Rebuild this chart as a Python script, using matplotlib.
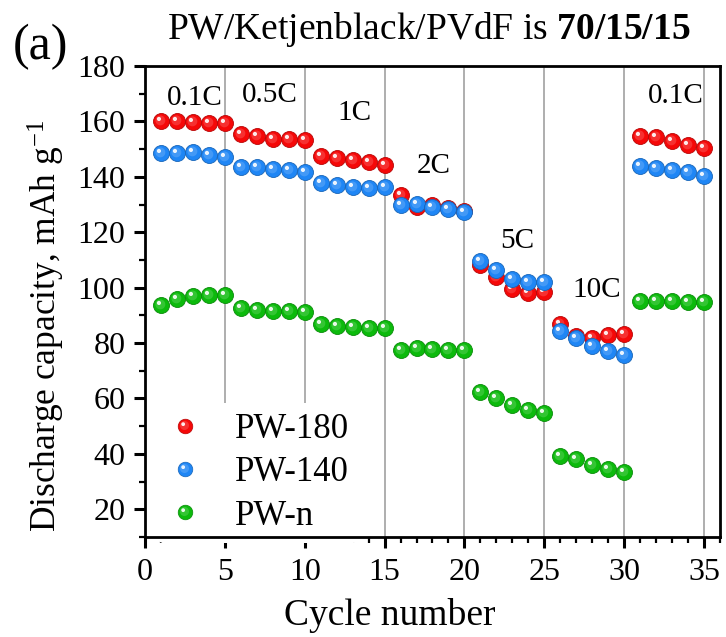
import matplotlib
matplotlib.use('Agg')
import matplotlib.pyplot as plt
from matplotlib.markers import MarkerStyle
from matplotlib.transforms import Affine2D
from matplotlib.legend_handler import HandlerTuple
from matplotlib.ticker import MultipleLocator
import matplotlib.colors as mcolors
import numpy as np

# ---------------- data ----------------
cycles = list(range(1, 36))
pw180 = [160.2, 160.2, 159.9, 159.6, 159.4,
         155.4, 154.8, 153.8, 153.6, 153.3,
         147.5, 146.9, 146.1, 145.5, 144.3,
         133.3, 129.1, 130.0, 128.8, 127.5,
         108.2, 103.9, 99.6, 98.0, 98.6,
         86.8, 82.5, 81.9, 82.9, 83.1,
         154.8, 154.3, 153.1, 151.5, 150.3]
pw140 = [148.5, 148.7, 148.9, 147.9, 147.3,
         143.6, 143.4, 142.8, 142.4, 141.8,
         137.6, 137.2, 136.4, 135.8, 136.4,
         129.7, 130.3, 129.1, 128.5, 127.3,
         109.7, 106.3, 103.0, 102.2, 102.2,
         84.3, 81.7, 79.1, 77.3, 75.6,
         143.9, 143.1, 142.5, 141.8, 140.3]
pwn = [93.6, 96.0, 96.9, 97.3, 97.3,
       92.8, 91.8, 91.6, 91.6, 91.2,
       86.7, 86.1, 85.9, 85.5, 85.5,
       77.6, 78.2, 78.0, 77.6, 77.6,
       62.2, 60.1, 57.8, 56.0, 54.8,
       39.1, 38.1, 36.1, 34.5, 33.6,
       95.2, 95.2, 95.1, 94.8, 94.8]
series_names = ['PW-180', 'PW-140', 'PW-n']
rate_labels = ['0.1C', '0.5C', '1C', '2C', '5C', '10C', '0.1C']
rate_x = [3.1, 7.8, 13.1, 18.1, 23.3, 28.3, 33.25]
rate_y = [168.5, 169.6, 163.0, 144.0, 117.0, 99.0, 169.2]

# ---------------- style ----------------
plt.rcParams['font.family'] = ['Liberation Serif', 'DejaVu Serif']
plt.rcParams['mathtext.fontset'] = 'custom'
plt.rcParams['mathtext.rm'] = 'Liberation Serif'
plt.rcParams['mathtext.it'] = 'Liberation Serif:italic'
plt.rcParams['mathtext.bf'] = 'Liberation Serif:bold'

colors = ['#f50808', '#1f86f5', '#0cba0c']

fig = plt.figure(figsize=(7.26, 6.37), dpi=100)
ax = fig.add_axes([0.1997, 0.157, 0.7920, 0.7394])

hl_mid = MarkerStyle('o', transform=Affine2D().scale(0.62).translate(-0.07, 0.07))
hl_top = MarkerStyle('o', transform=Affine2D().scale(0.26).translate(-0.16, 0.16))


def glossy_handles(x, y, c, ms, z):
    rgb = np.array(mcolors.to_rgb(c))
    dark = tuple(rgb * 0.75)
    light = tuple(rgb + (1 - rgb) * 0.30)
    h1, = ax.plot(x, y, 'o', ms=ms, mfc=c, mec=dark, mew=0.6, zorder=z)
    h2, = ax.plot(x, y, ls='none', marker=hl_mid, ms=ms, mfc=light, mec='none', alpha=0.55, zorder=z)
    h3, = ax.plot(x, y, ls='none', marker=hl_top, ms=ms, mfc='white', mec='none', alpha=0.9, zorder=z)
    return (h1, h2, h3)


for vals, c, z in zip([pw180, pw140, pwn], colors, [3, 4, 3]):
    glossy_handles(cycles, vals, c, 11.5, z)

# legend handles (smaller balls)
leg_handles = []
for c in colors:
    rgb = np.array(mcolors.to_rgb(c))
    a = plt.Line2D([], [], ls='none', marker='o', ms=10.5, mfc=c, mec=tuple(rgb * 0.75), mew=0.5)
    b = plt.Line2D([], [], ls='none', marker=hl_mid, ms=10.5, mfc=tuple(rgb + (1 - rgb) * 0.3), mec='none', alpha=0.55)
    d = plt.Line2D([], [], ls='none', marker=hl_top, ms=10.5, mfc='white', mec='none', alpha=0.9)
    leg_handles.append((a, b, d))

leg = ax.legend(leg_handles, series_names, handler_map={tuple: HandlerTuple(ndivide=1)},
                loc='lower left', bbox_to_anchor=(0.0216, -0.0127), fontsize=25,
                frameon=True, facecolor='white', edgecolor='none', framealpha=1.0,
                handlelength=1.0, handletextpad=0.94, labelspacing=0.29,
                borderpad=0.3, borderaxespad=0.0)
leg.set_zorder(2)

for lab, x, y in zip(rate_labels, rate_x, rate_y):
    ax.text(x, y, lab, fontsize=21, ha='center', va='center', zorder=5)

ax.set_xlim(0, 36)
ax.set_ylim(10, 180)
ax.xaxis.set_major_locator(MultipleLocator(5))
ax.xaxis.set_minor_locator(MultipleLocator(1))
ax.yaxis.set_minor_locator(MultipleLocator(10))
ax.set_yticks([20, 40, 60, 80, 100, 120, 140, 160, 180])

# vertical guide lines at the major x ticks (drawn below the legend)
for xv in ax.get_xticks():
    if 0 < xv < 36:
        ax.axvline(xv, color='#a8a8a8', lw=1.3, zorder=1)

for s in ax.spines.values():
    s.set_linewidth(2.0)
ax.tick_params(which='major', direction='out', length=8, width=2.2, labelsize=23)
ax.tick_params(axis='x', which='major', pad=7)
ax.tick_params(axis='y', which='major', pad=6)
ax.tick_params(which='minor', direction='out', length=4.5, width=1.6)
ax.tick_params(axis='both', top=False, right=False)

ax.set_xlabel('Cycle number', fontsize=27)
ax.xaxis.set_label_coords(0.426, -0.13)
ax.set_ylabel('Discharge capacity, mAh g$^{-1}$', fontsize=25.5)
ax.yaxis.set_label_coords(-0.1357, 0.448)

fig.text(0.59, 0.953, r'PW/Ketjenblack/PVdF is $\mathbf{70/15/15}$', fontsize=27,
         ha='center', va='center')
fig.text(0.018, 0.926, '(a)', fontsize=36, ha='left', va='center')

fig.savefig('out.png', dpi=100)
